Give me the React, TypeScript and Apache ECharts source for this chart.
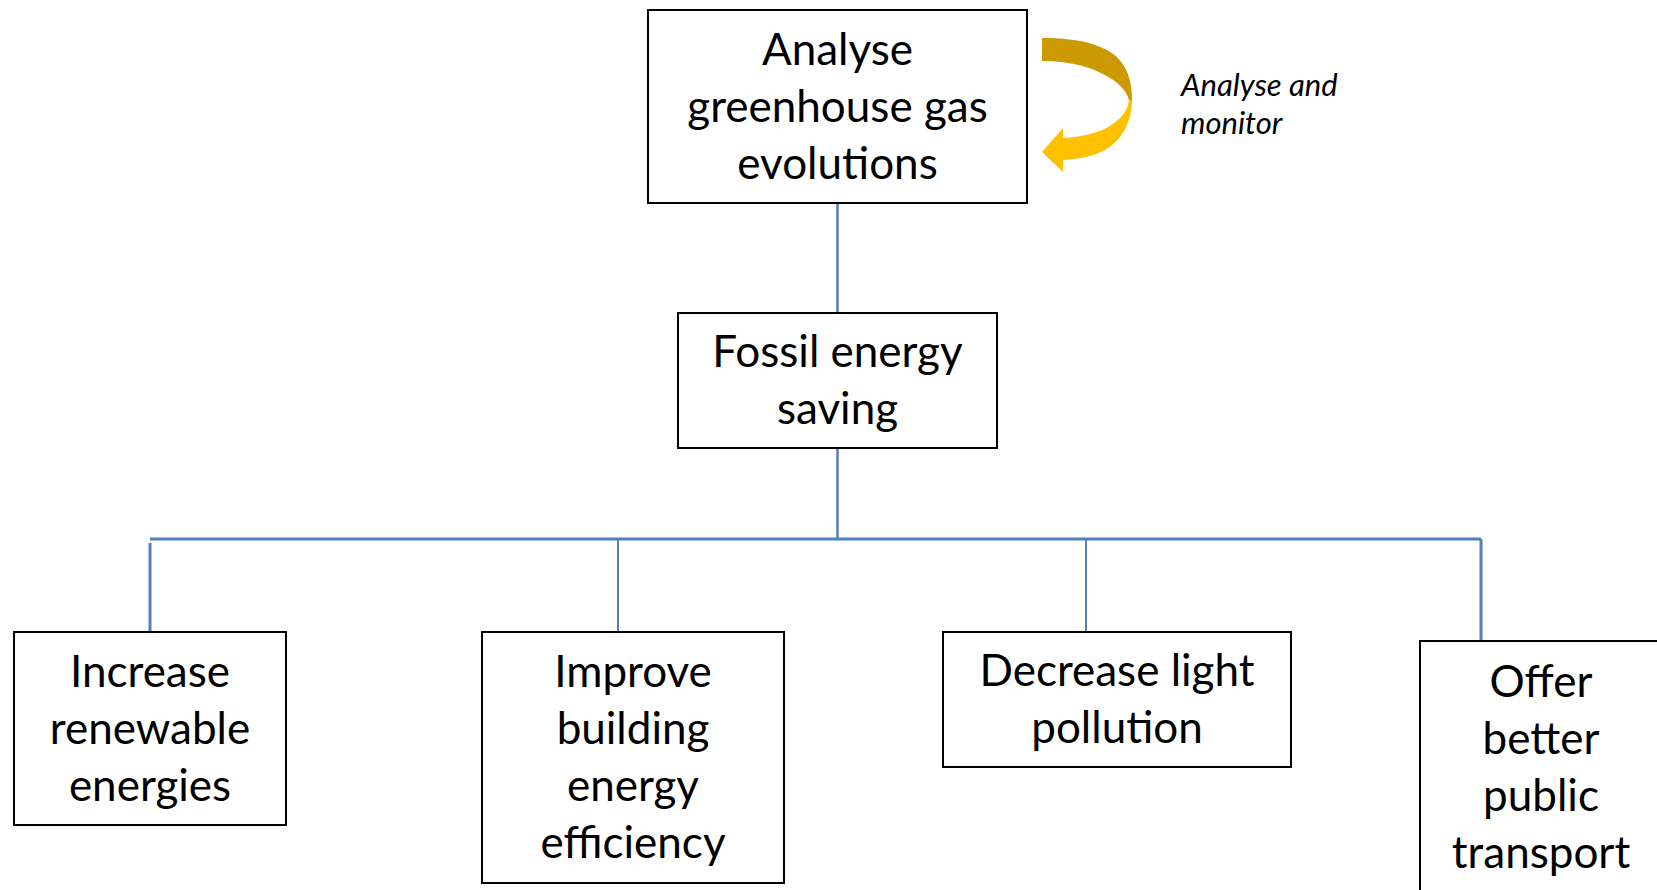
import React, { useEffect, useRef } from "react";
import * as echarts from "echarts";

// Diagram content
const topLabel = ["Analyse", "greenhouse gas", "evolutions"];
const midLabel = ["Fossil energy", "saving"];
const leafLabels = [
  ["Increase", "renewable", "energies"],
  ["Improve", "building", "energy", "efficiency"],
  ["Decrease light", "pollution"],
  ["Offer", "better", "public", "transport"],
];
const loopLabel = ["Analyse and", "monitor"];

// Layout (boxes: x, y, w, h)
const topBox = [648, 10, 379, 193];
const midBox = [678, 313, 319, 135];
const leafBoxes = [
  [14, 632, 272, 193],
  [482, 632, 302, 251],
  [943, 632, 348, 135],
  [1420, 641, 242, 253],
];
const leafDropX = [150, 618, 1086, 1481];
const dropWidths = [3, 2, 2, 3];
const busY = 539;

const LINE_COLOR = "#4F81BD";
const FONT = "Lato, 'Open Sans', sans-serif";
const FONT_SIZE = 44;
const LINE_H = 57;
const TEXT_DY = -2;

const arrowTopPath =
  "M1042 38 C1080 38 1112 45 1124 66 C1130 76 1132 88 1132 100 L1129 100 C1127 92 1120 84 1110 78 C1095 68 1072 61 1042 61 Z";
const arrowBottomPath =
  "M1129 100 L1132 100 C1132 122 1122 140 1105 150 C1094 156 1080 159 1063 160 L1063 172 L1042 152 L1063 128 L1063 138 C1082 137 1098 133 1110 126 C1122 118 1128 110 1129 100 Z";

echarts.graphic.registerShape("arrowTopPart", echarts.graphic.extendPath(arrowTopPath, {}));
echarts.graphic.registerShape("arrowBottomPart", echarts.graphic.extendPath(arrowBottomPath, {}));

function boxEl(b: number[], lines: string[]) {
  return [
    {
      type: "rect",
      shape: { x: b[0], y: b[1], width: b[2], height: b[3] },
      style: { fill: "#fff", stroke: "#000", lineWidth: 2 },
      z: 10,
    },
    {
      type: "text",
      x: b[0] + b[2] / 2,
      y: b[1] + b[3] / 2 + TEXT_DY,
      style: {
        text: lines.join("\n"),
        fill: "#000",
        font: `${FONT_SIZE}px ${FONT}`,
        lineHeight: LINE_H,
        align: "center",
        verticalAlign: "middle",
        textAlign: "center",
        textVerticalAlign: "middle",
      },
      z: 11,
    },
  ];
}

function vline(x: number, y1: number, y2: number, w: number) {
  return {
    type: "line",
    shape: { x1: x, y1, x2: x, y2 },
    style: { stroke: LINE_COLOR, lineWidth: w },
    z: 5,
  };
}

export default function App() {
  const ref = useRef<HTMLDivElement>(null);
  useEffect(() => {
    document.body.style.margin = "0";
    if (!ref.current) return;
    const chart = echarts.init(ref.current, undefined, { renderer: "svg" });
    const cx = topBox[0] + topBox[2] / 2;
    const elements: any[] = [];
    elements.push(...boxEl(topBox, topLabel));
    elements.push(...boxEl(midBox, midLabel));
    leafBoxes.forEach((b, i) => elements.push(...boxEl(b, leafLabels[i])));
    elements.push(vline(cx, topBox[1] + topBox[3], midBox[1], 2.5));
    elements.push(vline(cx, midBox[1] + midBox[3], busY, 2.5));
    elements.push({
      type: "line",
      shape: { x1: leafDropX[0], y1: busY, x2: leafDropX[3], y2: busY },
      style: { stroke: LINE_COLOR, lineWidth: 3 },
      z: 5,
    });
    leafBoxes.forEach((b, i) => {
      elements.push(vline(leafDropX[i], i === 0 ? busY + 4 : busY, b[1], dropWidths[i]));
    });
    elements.push({ type: "arrowTopPart", x: 0, y: 0, style: { fill: "#CC9900" }, z: 6 });
    elements.push({ type: "arrowBottomPart", x: 0, y: 0, style: { fill: "#FFC000" }, z: 6 });
    elements.push({
      type: "text",
      x: 1181,
      y: 103,
      style: {
        text: loopLabel.join("\n"),
        fill: "#000",
        font: `italic 31px ${FONT}`,
        lineHeight: 38,
        align: "left",
        verticalAlign: "middle",
        textAlign: "left",
        textVerticalAlign: "middle",
      },
      z: 11,
    });
    chart.setOption({
      animation: false,
      backgroundColor: "#fff",
      graphic: { elements },
    });
    return () => chart.dispose();
  }, []);
  return (
    <div
      ref={ref}
      style={{ position: "fixed", left: 0, top: 0, width: 1657, height: 890 }}
    />
  );
}
